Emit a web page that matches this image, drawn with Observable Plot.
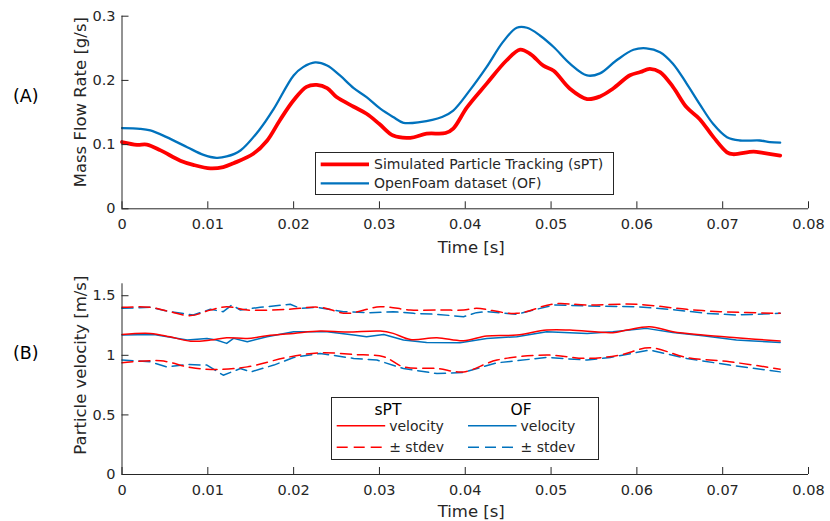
<!DOCTYPE html>
<html>
<head>
<meta charset="utf-8">
<script src="https://cdn.jsdelivr.net/npm/d3@7"></script>
<script src="https://cdn.jsdelivr.net/npm/@observablehq/plot@0.6"></script>
<style>
  html, body { margin: 0; padding: 0; background: #fff; }
  #wrap { position: relative; width: 830px; height: 521px; background: #fff; font-family: "DejaVu Sans", sans-serif; color: #262626; overflow: hidden; }
  .pane { position: absolute; left: 0; }
  .tag { position: absolute; left: 13px; font-size: 17.5px; color: #000; line-height: 1; }
  #overlay { position: absolute; left: 0; top: 0; }
</style>
</head>
<body>
<div id="wrap">
  <div id="p1" class="pane" style="top:0"></div>
  <div id="p2" class="pane" style="top:265px"></div>
  <div class="tag" style="top:88px">(A)</div>
  <div class="tag" style="top:345px">(B)</div>
  <svg id="overlay" width="830" height="521"></svg>
</div>
<script>
// ---------- data ----------
const xTicks = [0, 0.01, 0.02, 0.03, 0.04, 0.05, 0.06, 0.07, 0.08];
const xTickLabels = ["0", "0.01", "0.02", "0.03", "0.04", "0.05", "0.06", "0.07", "0.08"];
const massTicks = [0, 0.1, 0.2, 0.3];
const massTickLabels = ["0", "0.1", "0.2", "0.3"];
const velTicks = [0, 0.5, 1, 1.5];
const velTickLabels = ["0", "0.5", "1", "1.5"];

// (A) mass flow rate
const tMassSPT = [0, 0.00175, 0.0029, 0.0045, 0.0068, 0.0083, 0.0103, 0.0118, 0.013, 0.0153, 0.0169, 0.0184, 0.020, 0.0215, 0.0227, 0.0239, 0.025, 0.027, 0.0285, 0.030, 0.0316, 0.0336, 0.0355, 0.0377, 0.0386, 0.0402, 0.0425, 0.0448, 0.0464, 0.0476, 0.0491, 0.0503, 0.0522, 0.0542, 0.0557, 0.0572, 0.0592, 0.0604, 0.0615, 0.0627, 0.0642, 0.0658, 0.0673, 0.0689, 0.0705, 0.0712, 0.0736, 0.0747, 0.0767];
const massSPT  = [0.104, 0.0997, 0.100, 0.091, 0.075, 0.0685, 0.063, 0.065, 0.071, 0.0857, 0.106, 0.138, 0.169, 0.19, 0.193, 0.188, 0.174, 0.159, 0.148, 0.132, 0.114, 0.1106, 0.117, 0.118, 0.125, 0.158, 0.195, 0.231, 0.248, 0.241, 0.223, 0.215, 0.187, 0.171, 0.175, 0.187, 0.208, 0.213, 0.218, 0.213, 0.190, 0.158, 0.140, 0.112, 0.088, 0.085, 0.089, 0.087, 0.083];
const tMassOF = [0, 0.0021, 0.0033, 0.0052, 0.0076, 0.0095, 0.011, 0.0122, 0.0138, 0.0161, 0.0177, 0.020, 0.0211, 0.0225, 0.0239, 0.0254, 0.027, 0.0285, 0.0301, 0.0316, 0.0328, 0.0347, 0.0373, 0.0386, 0.0405, 0.0425, 0.0444, 0.046, 0.0472, 0.0487, 0.0503, 0.0522, 0.0542, 0.0557, 0.0576, 0.0596, 0.0611, 0.0627, 0.0642, 0.0658, 0.0673, 0.0689, 0.0705, 0.072, 0.0743, 0.0755, 0.0767];
const massOF  = [0.1257, 0.1246, 0.122, 0.1116, 0.096, 0.084, 0.0794, 0.0815, 0.0909, 0.1246, 0.156, 0.2077, 0.2207, 0.228, 0.2233, 0.2077, 0.188, 0.174, 0.156, 0.143, 0.134, 0.135, 0.143, 0.153, 0.184, 0.221, 0.26, 0.282, 0.282, 0.270, 0.252, 0.226, 0.2077, 0.211, 0.231, 0.2477, 0.250, 0.244, 0.226, 0.195, 0.1635, 0.132, 0.1116, 0.1064, 0.1064, 0.104, 0.103];

// (B) particle velocity
const tVelSPT = [0, 0.0033, 0.0056, 0.008, 0.0103, 0.0122, 0.0146, 0.0169, 0.02, 0.0231, 0.0262, 0.0301, 0.0316, 0.0336, 0.0367, 0.0398, 0.0425, 0.046, 0.0495, 0.0522, 0.0572, 0.0588, 0.0615, 0.0642, 0.0677, 0.0716, 0.0767];
const velSPT  = [1.175, 1.184, 1.155, 1.119, 1.128, 1.147, 1.142, 1.164, 1.184, 1.203, 1.195, 1.203, 1.184, 1.133, 1.147, 1.122, 1.162, 1.170, 1.212, 1.212, 1.19, 1.212, 1.240, 1.198, 1.170, 1.147, 1.12];
const tVelOF = [0, 0.0037, 0.0076, 0.0099, 0.011, 0.0122, 0.013, 0.0146, 0.0169, 0.02, 0.0239, 0.027, 0.0285, 0.0305, 0.0328, 0.0355, 0.0394, 0.0425, 0.046, 0.0495, 0.0542, 0.0572, 0.0611, 0.0642, 0.0677, 0.0716, 0.0736, 0.0767];
const velOF  = [1.170, 1.175, 1.128, 1.142, 1.128, 1.10, 1.142, 1.114, 1.156, 1.198, 1.198, 1.170, 1.156, 1.175, 1.128, 1.108, 1.105, 1.142, 1.156, 1.198, 1.184, 1.198, 1.226, 1.192, 1.164, 1.128, 1.12, 1.108];
const tUpSPT = [0, 0.0033, 0.0056, 0.008, 0.0103, 0.0122, 0.0146, 0.0192, 0.0231, 0.0262, 0.0301, 0.0336, 0.0374, 0.0398, 0.0413, 0.046, 0.0503, 0.0542, 0.0599, 0.0658, 0.0697, 0.0767];
const upSPT  = [1.403, 1.403, 1.366, 1.333, 1.380, 1.408, 1.380, 1.386, 1.403, 1.352, 1.408, 1.380, 1.380, 1.380, 1.394, 1.352, 1.431, 1.422, 1.428, 1.386, 1.366, 1.352];
const tUpOF = [0, 0.0033, 0.0056, 0.0083, 0.0103, 0.0118, 0.0128, 0.0138, 0.0161, 0.0196, 0.0208, 0.0227, 0.0258, 0.0289, 0.0316, 0.034, 0.0367, 0.0398, 0.0413, 0.0425, 0.046, 0.0503, 0.0542, 0.0599, 0.0638, 0.0681, 0.0716, 0.0767];
const upOF  = [1.394, 1.403, 1.366, 1.338, 1.386, 1.366, 1.422, 1.380, 1.403, 1.428, 1.394, 1.403, 1.366, 1.358, 1.366, 1.352, 1.344, 1.324, 1.358, 1.366, 1.344, 1.422, 1.414, 1.408, 1.386, 1.352, 1.338, 1.352];
const tLoSPT = [0, 0.0045, 0.008, 0.011, 0.0146, 0.0192, 0.0231, 0.027, 0.0305, 0.0328, 0.0367, 0.0398, 0.0437, 0.0495, 0.0542, 0.058, 0.0615, 0.0658, 0.0708, 0.0767];
const loSPT  = [0.937, 0.954, 0.898, 0.881, 0.903, 0.982, 1.021, 1.007, 0.988, 0.903, 0.889, 0.861, 0.96, 1.002, 0.974, 1.002, 1.063, 0.982, 0.946, 0.884];
const tLoOF = [0, 0.0033, 0.0052, 0.0076, 0.0099, 0.0118, 0.0138, 0.015, 0.0177, 0.02, 0.0231, 0.027, 0.0297, 0.0328, 0.0367, 0.0398, 0.0437, 0.0495, 0.0542, 0.0569, 0.0615, 0.0658, 0.0708, 0.0767];
const loOF  = [0.96, 0.946, 0.903, 0.923, 0.918, 0.833, 0.889, 0.861, 0.918, 0.982, 1.016, 0.974, 0.96, 0.889, 0.847, 0.857, 0.937, 0.982, 0.96, 0.982, 1.044, 0.974, 0.918, 0.861];

// ---------- style ----------
const RED = "#FF0000", BLUE = "#0072BD", AXIS = "#262626";
const DASH = "11,6";
const W = 830, ML = 121.5, MR = 22;
const PW = W - ML - MR;

function axesMarks(yTicks, yLabels, plotH, yLabel, yLabelDy, xLabelDy) {
  const fx = d3.scaleOrdinal(xTicks, xTickLabels);
  const fy = d3.scaleOrdinal(yTicks, yLabels);
  return [
    Plot.axisX(xTicks, {tickSize: 0, tickPadding: 10, tickFormat: d => fx(d), fontSize: 14.5, fill: AXIS, label: null}),
    Plot.axisY(yTicks, {tickSize: 0, tickPadding: 6.5, tickFormat: d => fy(d), fontSize: 14.5, fill: AXIS, label: null}),
    Plot.tickX(xTicks, {x: d => d, insetTop: plotH - 7, stroke: AXIS, strokeWidth: 1}),
    Plot.tickY(yTicks, {y: d => d, insetRight: PW - 7, stroke: AXIS, strokeWidth: 1}),
    Plot.ruleY([yTicks[0]], {stroke: AXIS, strokeWidth: 1}),
    Plot.ruleX([0], {stroke: AXIS, strokeWidth: 1}),
    Plot.text(["Time [s]"], {text: d => d, frameAnchor: "bottom", textAnchor: "middle", dy: xLabelDy, dx: 6, fontSize: 16.5, fill: AXIS, lineAnchor: "middle"}),
    Plot.text([yLabel], {text: d => d, frameAnchor: "left", textAnchor: "middle", dx: -41.5, dy: yLabelDy, rotate: -90, fontSize: 16.5, fill: AXIS, lineAnchor: "middle"})
  ];
}

const style = {fontFamily: "DejaVu Sans", fontSize: "14.5px", color: AXIS, background: "transparent", overflow: "visible"};

// (A)
const H1 = 265, MT1 = 15.7, MB1 = 56.7;
const p1 = Plot.plot({
  width: W, height: H1, marginLeft: ML, marginRight: MR, marginTop: MT1, marginBottom: MB1,
  style,
  x: {domain: [0, 0.08], axis: null},
  y: {domain: [0, 0.3], axis: null},
  marks: [
    Plot.line(tMassOF, {x: tMassOF, y: massOF, stroke: BLUE, strokeWidth: 2.3, curve: "catmull-rom"}),
    Plot.line(tMassSPT, {x: tMassSPT, y: massSPT, stroke: RED, strokeWidth: 3.8, curve: "catmull-rom"}),
    ...axesMarks(massTicks, massTickLabels, H1 - MT1 - MB1, "Mass Flow Rate [g/s]", -10.3, 39)
  ]
});
document.getElementById("p1").append(p1);

// (B)
const H2 = 256, MT2 = 18.3, MB2 = 47;
const p2 = Plot.plot({
  width: W, height: H2, marginLeft: ML, marginRight: MR, marginTop: MT2, marginBottom: MB2,
  style,
  x: {domain: [0, 0.08], axis: null},
  y: {domain: [0, 1.6], axis: null},
  marks: [
    Plot.line(tUpOF, {x: tUpOF, y: upOF, stroke: BLUE, strokeWidth: 1.5, strokeDasharray: DASH}),
    Plot.line(tLoOF, {x: tLoOF, y: loOF, stroke: BLUE, strokeWidth: 1.5, strokeDasharray: DASH}),
    Plot.line(tVelOF, {x: tVelOF, y: velOF, stroke: BLUE, strokeWidth: 1.5}),
    Plot.line(tUpSPT, {x: tUpSPT, y: upSPT, stroke: RED, strokeWidth: 1.5, strokeDasharray: DASH, curve: "catmull-rom"}),
    Plot.line(tLoSPT, {x: tLoSPT, y: loSPT, stroke: RED, strokeWidth: 1.5, strokeDasharray: DASH, curve: "catmull-rom"}),
    Plot.line(tVelSPT, {x: tVelSPT, y: velSPT, stroke: RED, strokeWidth: 1.5, curve: "catmull-rom"}),
    ...axesMarks(velTicks, velTickLabels, H2 - MT2 - MB2, "Particle velocity [m/s]", -14, 37.5)
  ]
});
document.getElementById("p2").append(p2);

// ---------- legends ----------
const ov = d3.select("#overlay").style("font-family", "DejaVu Sans");
// legend A
const gA = ov.append("g");
gA.append("rect").attr("x", 315.5).attr("y", 152.5).attr("width", 298).attr("height", 42)
  .attr("fill", "#fff").attr("stroke", AXIS).attr("stroke-width", 1);
const legA = [{label: "Simulated Particle Tracking (sPT)", color: RED, w: 3.8, y: 164.3},
              {label: "OpenFoam dataset (OF)", color: BLUE, w: 2.3, y: 183.3}];
legA.forEach(d => {
  gA.append("line").attr("x1", 320.7).attr("x2", 369).attr("y1", d.y).attr("y2", d.y)
    .attr("stroke", d.color).attr("stroke-width", d.w);
  gA.append("text").attr("x", 374).attr("y", d.y).attr("dy", "0.35em")
    .attr("font-size", 14).attr("fill", AXIS).text(d.label);
});
// legend B
const gB = ov.append("g");
gB.append("rect").attr("x", 331.5).attr("y", 397.5).attr("width", 267).attr("height", 62)
  .attr("fill", "#fff").attr("stroke", AXIS).attr("stroke-width", 1);
const legCols = [{title: "sPT", color: RED, x0: 336.7, tx: 388}, {title: "OF", color: BLUE, x0: 468, tx: 521}];
const legRows = [{label: "velocity", dash: null, y: 425.7}, {label: "\u00B1 stdev", dash: DASH, y: 447.3}];
legCols.forEach(c => {
  gB.append("text").attr("x", c.tx).attr("y", 410).attr("dy", "0.35em").attr("text-anchor", "middle")
    .attr("font-size", 15.5).attr("fill", "#000").text(c.title);
  legRows.forEach(r => {
    gB.append("line").attr("x1", c.x0).attr("x2", c.x0 + 48.5).attr("y1", r.y).attr("y2", r.y)
      .attr("stroke", c.color).attr("stroke-width", 1.5).attr("stroke-dasharray", r.dash);
    gB.append("text").attr("x", c.x0 + 52.5).attr("y", r.y).attr("dy", "0.35em")
      .attr("font-size", 14).attr("fill", AXIS).text(r.label);
  });
});
</script>
</body>
</html>
